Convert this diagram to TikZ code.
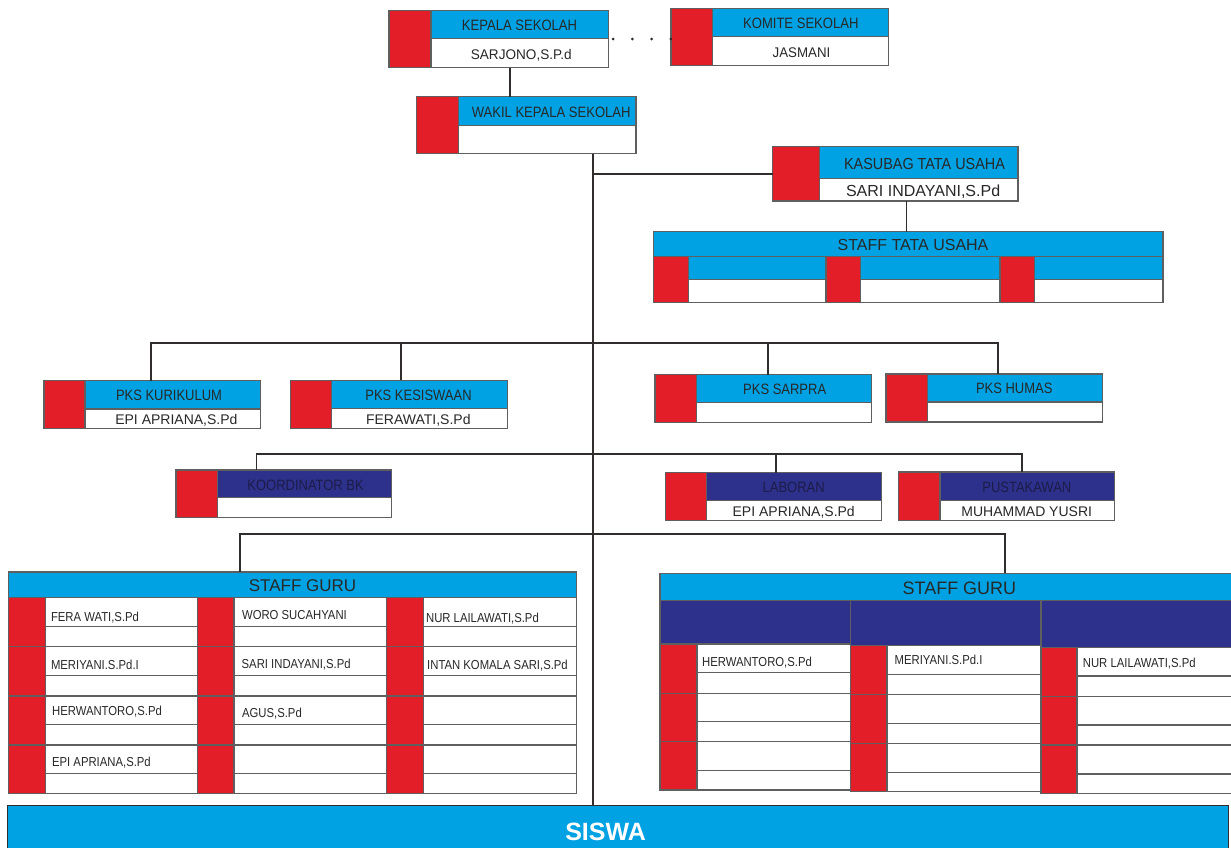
\documentclass[tikz,border=0pt]{standalone}
\usepackage{fontspec}
\setmainfont{Liberation Sans}
\usepackage{graphicx}
\definecolor{cCyan}{RGB}{0,162,227}
\definecolor{cRed}{RGB}{228,30,40}
\definecolor{cNavy}{RGB}{46,49,140}
\definecolor{cBord}{RGB}{95,95,95}
\definecolor{cLine}{RGB}{50,45,45}
\definecolor{cTxt}{RGB}{40,40,40}
\definecolor{cNavyTxt}{RGB}{28,28,72}
\newcommand\HT[3]{{\fontsize{#1}{#1}\selectfont\scalebox{#2}[1]{#3}}}
\tikzset{
  bord/.style={draw=cBord, line width=1.1pt},
  conn/.style={draw=cLine, line width=1.8pt},
  dotline/.style={draw=cLine, line width=3pt, line cap=round, dash pattern=on 0pt off 19.3pt},
  txt/.style={inner sep=0pt, anchor=base, text=cTxt},
  ntxt/.style={inner sep=0pt, anchor=base, text=cNavyTxt},
  ltxt/.style={inner sep=0pt, anchor=base west, text=cTxt},
  area/.style={inner sep=0pt, outer sep=0pt, anchor=north west}
}
% id, x1, y1, x2, y2, xr, yh, header colour
\newcommand\obox[8]{%
  \node[area, minimum width={(#4-#2)*1pt}, minimum height={(#5-#3)*1pt}] (#1) at (#2,#3) {};
  \fill[cRed] (#2,#3) rectangle (#6,#5);
  \fill[#8] (#6,#3) rectangle (#4,#7);
  \fill[white] (#6,#7) rectangle (#4,#5);
  \draw[bord] (#2,#3) rectangle (#6,#5) (#6,#3) rectangle (#4,#7) (#6,#7) rectangle (#4,#5);
}
\begin{document}
\begin{tikzpicture}[x=1pt,y=-1pt]
\useasboundingbox (0,0) rectangle (1231,847);
\clip (0,0) rectangle (1231,847);
\fill[white] (0,0) rectangle (1231,847);

% ---------- top boxes ----------
\obox{kepala}{389}{10.5}{608.7}{67.5}{431}{38.5}{cCyan}
\node[txt] at (519.5,30.4) {\HT{15}{.87}{KEPALA SEKOLAH}};
\node[txt] at (521.3,59.5) {\HT{14}{.97}{SARJONO,S.P.d}};

\obox{komite}{671}{8.5}{888.3}{65.5}{712.7}{36.7}{cCyan}
\node[txt] at (800.8,28.3) {\HT{15}{.87}{KOMITE SEKOLAH}};
\node[txt] at (801.5,57.3) {\HT{14}{.95}{JASMANI}};

\obox{wakil}{416.7}{96.7}{636}{153.7}{458.3}{125.7}{cCyan}
\node[txt] at (551.2,117.3) {\HT{15}{.87}{WAKIL KEPALA SEKOLAH}};

\obox{kasubag}{772.9}{146.7}{1018}{201}{819.2}{178.5}{cCyan}
\node[txt] at (924.5,169) {\HT{16}{.9}{KASUBAG TATA USAHA}};
\node[txt] at (923.1,196) {\HT{16}{1}{SARI INDAYANI,S.Pd}};

% ---------- staff tata usaha ----------
\node[area, minimum width=509.5pt, minimum height=71pt] (staffTU) at (653.5,231.7) {};
\fill[cCyan] (653.5,231.7) rectangle (1163,256.7);
\draw[bord] (653.5,231.7) rectangle (1163,256.7);
\node[txt] at (913,250) {\HT{16}{1}{STAFF TATA USAHA}};
\foreach \xa/\xr/\xb in {653.5/688.3/826, 826/860.4/1000, 1000/1034.9/1163}{
  \fill[cRed] (\xa,256.7) rectangle (\xr,302.7);
  \fill[cCyan] (\xr,256.7) rectangle (\xb,279.3);
  \fill[white] (\xr,279.3) rectangle (\xb,302.7);
  \draw[bord] (\xa,256.7) rectangle (\xr,302.7) (\xr,256.7) rectangle (\xb,279.3) (\xr,279.3) rectangle (\xb,302.7);
}

% ---------- PKS row ----------
\obox{kurikulum}{44}{380.7}{260.2}{428.7}{85}{409}{cCyan}
\node[txt] at (169,400.7) {\HT{15}{.865}{PKS KURIKULUM}};
\node[txt] at (176.4,424.3) {\HT{14}{1}{EPI APRIANA,S.Pd}};

\obox{kesiswaan}{290.9}{380.3}{507.5}{428.3}{331.8}{408.3}{cCyan}
\node[txt] at (418.5,400.5) {\HT{15}{.865}{PKS KESISWAAN}};
\node[txt] at (418.3,424) {\HT{14}{1}{FERAWATI,S.Pd}};

\obox{sarpra}{655}{374.7}{871.7}{422.3}{696.7}{402.7}{cCyan}
\node[txt] at (784.7,394.3) {\HT{15}{.865}{PKS SARPRA}};

\obox{humas}{886}{374}{1102.7}{422}{927.7}{402}{cCyan}
\node[txt] at (1014.2,393.3) {\HT{15}{.865}{PKS HUMAS}};

% ---------- BK / laboran / pustakawan ----------
\obox{koord}{176}{470}{391.9}{517.3}{217.4}{497.7}{cNavy}
\node[ntxt] at (305.6,490) {\HT{15}{.865}{KOORDINATOR BK}};

\obox{laboran}{665.7}{472.7}{881.7}{520.3}{706.7}{500.3}{cNavy}
\node[ntxt] at (793.7,492.7) {\HT{15}{.865}{LABORAN}};
\node[txt] at (793.7,516) {\HT{14}{1}{EPI APRIANA,S.Pd}};

\obox{pustakawan}{898.7}{472}{1114.3}{520.3}{940}{500.3}{cNavy}
\node[ntxt] at (1026.8,492.7) {\HT{15}{.865}{PUSTAKAWAN}};
\node[txt] at (1026.7,516) {\HT{14}{1}{MUHAMMAD YUSRI}};

% ---------- staff guru (left) ----------
\node[area, minimum width=568.5pt, minimum height=221.3pt] (guruL) at (8.3,572) {};
\fill[cCyan] (8.3,572) rectangle (576.8,597.3);
\draw[bord] (8.3,572) rectangle (576.8,597.3);
\node[txt] at (302.5,591.7) {\HT{17}{1}{STAFF GURU}};
\foreach \ya/\yb/\yc in {597.3/626.7/646.7, 646.7/675.7/696, 696/724.3/745, 745/773.3/793.3}{
  \foreach \xa/\xr/\xb in {8.3/45.1/197.5, 197.5/234/386.8, 386.8/423.3/576.8}{
    \fill[cRed] (\xa,\ya) rectangle (\xr,\yc);
    \fill[white] (\xr,\ya) rectangle (\xb,\yc);
    \draw[bord] (\xa,\ya) rectangle (\xr,\yc) (\xr,\ya) rectangle (\xb,\yb) (\xr,\yb) rectangle (\xb,\yc);
  }
}
\node[ltxt] at (50.8,621.4) {\HT{13}{.87}{FERA WATI,S.Pd}};
\node[ltxt] at (241.9,619) {\HT{13}{.87}{WORO SUCAHYANI}};
\node[ltxt] at (425.9,622) {\HT{13}{.87}{NUR LAILAWATI,S.Pd}};
\node[ltxt] at (50.8,669.7) {\HT{13}{.87}{MERIYANI.S.Pd.I}};
\node[ltxt] at (241.5,668) {\HT{13}{.87}{SARI INDAYANI,S.Pd}};
\node[ltxt] at (427,669) {\HT{13}{.87}{INTAN KOMALA SARI,S.Pd}};
\node[ltxt] at (51.9,715.4) {\HT{13}{.87}{HERWANTORO,S.Pd}};
\node[ltxt] at (241.9,717.4) {\HT{13}{.87}{AGUS,S.Pd}};
\node[ltxt] at (51.9,766.4) {\HT{13}{.87}{EPI APRIANA,S.Pd}};

% ---------- staff guru (right) ----------
\node[area, minimum width=585pt, minimum height=219.4pt] (guruR) at (660,573.3) {};
\fill[cCyan] (660,573.3) rectangle (1245,600.7);
\draw[bord] (660,573.3) rectangle (1245,600.7);
\node[txt] at (959.4,594) {\HT{18}{1}{STAFF GURU}};
\foreach \xa/\xr/\xb/\dy in {660/697/850.5/0, 850.5/887/1041/1.5, 1041/1077/1245/3.3}{
  \fill[cNavy] (\xa,600.7) rectangle (\xb,{644+\dy});
  \draw[bord] (\xa,600.7) rectangle (\xb,{644+\dy});
  \foreach \ya/\yb/\yc in {644/672.7/693.3, 693.3/721.7/741.7, 741.7/770.7/790}{
    \fill[cRed] (\xa,{\ya+\dy}) rectangle (\xr,{\yc+\dy});
    \fill[white] (\xr,{\ya+\dy}) rectangle (\xb,{\yc+\dy});
    \draw[bord] (\xa,{\ya+\dy}) rectangle (\xr,{\yc+\dy}) (\xr,{\ya+\dy}) rectangle (\xb,{\yb+\dy}) (\xr,{\yb+\dy}) rectangle (\xb,{\yc+\dy});
  }
}
\node[ltxt] at (701.9,666.4) {\HT{13}{.87}{HERWANTORO,S.Pd}};
\node[ltxt] at (894.5,664) {\HT{13}{.87}{MERIYANI.S.Pd.I}};
\node[ltxt] at (1082.7,667) {\HT{13}{.87}{NUR LAILAWATI,S.Pd}};

% ---------- siswa ----------
\node[area, minimum width=1220.2pt, minimum height=60pt] (siswa) at (7.8,805) {};
\fill[cCyan] (7.8,805) rectangle (1228,870);
\draw[draw=cLine, line width=0.8pt] (7.8,870) -- (7.8,805) -- (1228,805) -- (1228,870);
\node[inner sep=0pt, anchor=base, text=white] at (605.6,840) {\HT{25}{1}{\bfseries SISWA}};

% ---------- connectors ----------
\draw[conn] ([xshift=121pt]kepala.south west) -- ([xshift=121pt]kepala.south west |- wakil.north);
\draw[dotline] ([xshift=4.3pt]kepala.east) -- (komite.west |- kepala.east);
\coordinate (t0) at ([xshift=176.3pt]wakil.south west);
\draw[conn] (t0) -- (t0 |- siswa.north);
\draw[conn] (t0 |- kasubag.west) -- (kasubag.west);
\draw[conn] ([xshift=133.5pt]kasubag.south west) -- ([xshift=133.5pt]kasubag.south west |- staffTU.north);
% PKS row
\coordinate (h1) at (593,343.3);
\draw[conn] ([xshift=-1pt]kurikulum.north) -- ([xshift=-1pt]kurikulum.north |- h1) -- ([xshift=4pt]humas.north |- h1) -- ([xshift=4pt]humas.north);
\draw[conn] ([xshift=1.5pt]kesiswaan.north) -- ([xshift=1.5pt]kesiswaan.north |- h1);
\draw[conn] ([xshift=5pt]sarpra.north) -- ([xshift=5pt]sarpra.north |- h1);
% BK row
\coordinate (h2) at (593,454);
\draw[conn] ([xshift=80.4pt]koord.north west) -- ([xshift=80.4pt]koord.north west |- h2) -- ([xshift=123.3pt]pustakawan.north west |- h2) -- ([xshift=123.3pt]pustakawan.north west);
\draw[conn] ([xshift=110.3pt]laboran.north west) -- ([xshift=110.3pt]laboran.north west |- h2);
% staff guru row
\coordinate (h3) at (593,534);
\draw[conn] ([xshift=232pt]guruL.north west) -- ([xshift=232pt]guruL.north west |- h3) -- ([xshift=345pt]guruR.north west |- h3) -- ([xshift=345pt]guruR.north west);
\end{tikzpicture}
\end{document}
